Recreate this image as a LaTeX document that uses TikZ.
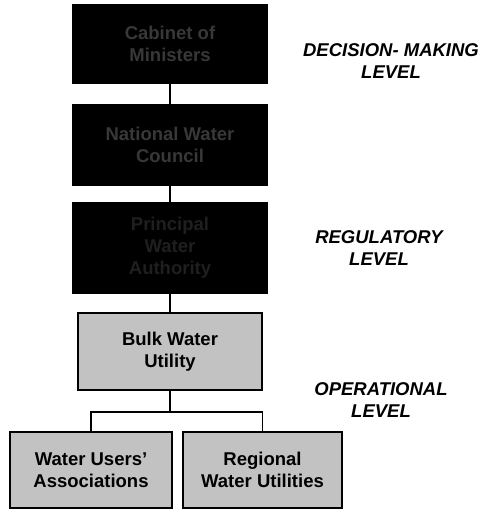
\documentclass[tikz,border=0pt]{standalone}
\usepackage{fontspec}
\setmainfont{Liberation Sans}
\usepackage{tikz}
\usetikzlibrary{positioning}

\begin{document}
\begin{tikzpicture}[x=1pt, y=-1pt, inner sep=0pt,
		darkbox/.style={draw, line width=1.2pt, fill=black, text=black!78, font=\fontsize{18.5}{22}\selectfont\bfseries, align=center, minimum width=195pt},
		lightbox/.style={draw, line width=1.2pt, fill=black!24, text=black, font=\fontsize{18.5}{22}\selectfont\bfseries, align=center},
		levellabel/.style={font=\fontsize{18.5}{22}\selectfont\bfseries\itshape, align=center},
		link/.style={line width=1.4pt}]
			\useasboundingbox (0,0) rectangle (482,510);
			
			\node[darkbox, minimum height=78pt] (cabinet) at (170,44) {Cabinet of\\Ministers};
			\node[darkbox, minimum height=80pt] (council) at (170,145) {National Water\\Council};
			\node[darkbox, minimum height=90pt, text=black!88] (authority) at (170,248) {Principal\\Water\\Authority};
			
			\node[lightbox, minimum width=184pt, minimum height=77pt] (bulk) at (170,351.5) {Bulk Water\\Utility};
			\node[lightbox, minimum width=162pt, minimum height=76pt] (users) at (91,470) {Water Users'\\Associations};
			\node[lightbox, minimum width=159pt, minimum height=76pt] (regional) at (262.5,470) {Regional\\Water Utilities};
			
			\node[levellabel] (decision) at (391,61) {DECISION- MAKING\\LEVEL};
			\node[levellabel] (regulatory) at (379,248) {REGULATORY\\LEVEL};
			\node[levellabel] (operational) at (381,400) {OPERATIONAL\\LEVEL};
			
			\coordinate (fork) at (170,412);
			
			\draw[link] (cabinet) -- (council);
			\draw[link] (council) -- (authority);
			\draw[link] (authority) -- (bulk);
			\draw[link] (bulk) -- (fork);
			\draw[link] (users.north) |- (fork) -| (regional.north);
		\end{tikzpicture}
\end{document}
